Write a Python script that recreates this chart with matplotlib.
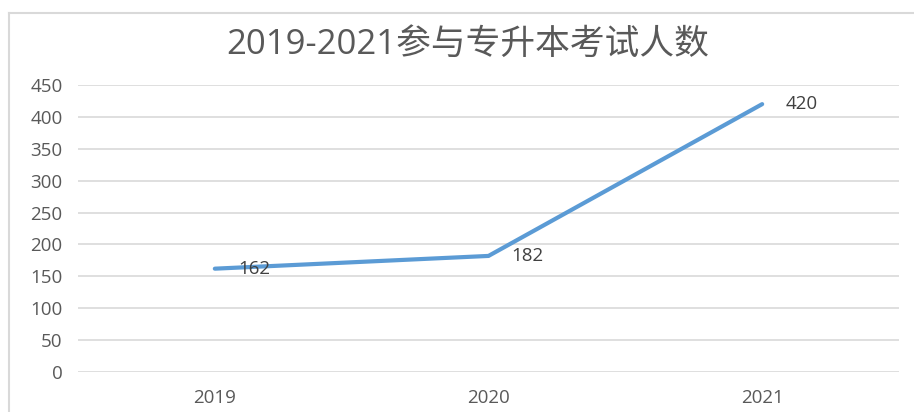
"""Line chart: 2019-2021 专升本 exam participants."""

import matplotlib
matplotlib.use("Agg")
import matplotlib.pyplot as plt
from matplotlib.lines import Line2D

# ── Data ──────────────────────────────────────────────────────────────
years = ["2019", "2020", "2021"]
counts = [162, 182, 420]
y_ticks = [0, 50, 100, 150, 200, 250, 300, 350, 400, 450]
title = "2019-2021参与专升本考试人数"

# ── Style ─────────────────────────────────────────────────────────────
plt.rcParams["font.family"] = ["Open Sans", "Noto Sans CJK SC", "DejaVu Sans"]
LINE_BLUE = "#5B9BD5"
GRID = "#D9D9D9"
TEXT = "#595959"

W, H = 914, 412
fig = plt.figure(figsize=(W / 100, H / 100), dpi=100)
fig.patch.set_facecolor("white")

# plot area in pixels: x 78..899, y 85..372
ax = fig.add_axes([78 / W, 1 - 372 / H, (899 - 78) / W, (372 - 85) / H])

x = list(range(len(years)))
ax.plot(x, counts, color=LINE_BLUE, linewidth=3, solid_capstyle="round",
        solid_joinstyle="miter", zorder=3)

for xi, v in zip(x, counts):
    ax.annotate(str(v), (xi, v), xytext=(23, 0), textcoords="offset pixels",
                ha="left", va="center", fontsize=13.5, color="#404040", zorder=4)

ax.set_xlim(-0.5, len(years) - 0.5)
ax.set_ylim(0, 450)
ax.set_xticks(x)
ax.set_xticklabels(years)
ax.set_yticks(y_ticks)
ax.tick_params(axis="both", length=0, labelsize=13.5, labelcolor=TEXT)
ax.tick_params(axis="y", pad=11)
ax.tick_params(axis="x", pad=12)
ax.grid(axis="y", color=GRID, linewidth=1.2)
ax.set_axisbelow(True)
for s in ax.spines.values():
    s.set_visible(False)

fig.text(468 / W, 1 - 45 / H, title, ha="center", va="center",
         fontsize=25, color=TEXT)

# chart border (cropped at right/bottom in the reference)
fig.add_artist(Line2D([9 / W, 1], [1 - 13 / H, 1 - 13 / H],
                      color=GRID, linewidth=1.5, transform=fig.transFigure))
fig.add_artist(Line2D([9 / W, 9 / W], [0, 1 - 13 / H],
                      color=GRID, linewidth=1.5, transform=fig.transFigure))

fig.savefig("out.png", dpi=100)
